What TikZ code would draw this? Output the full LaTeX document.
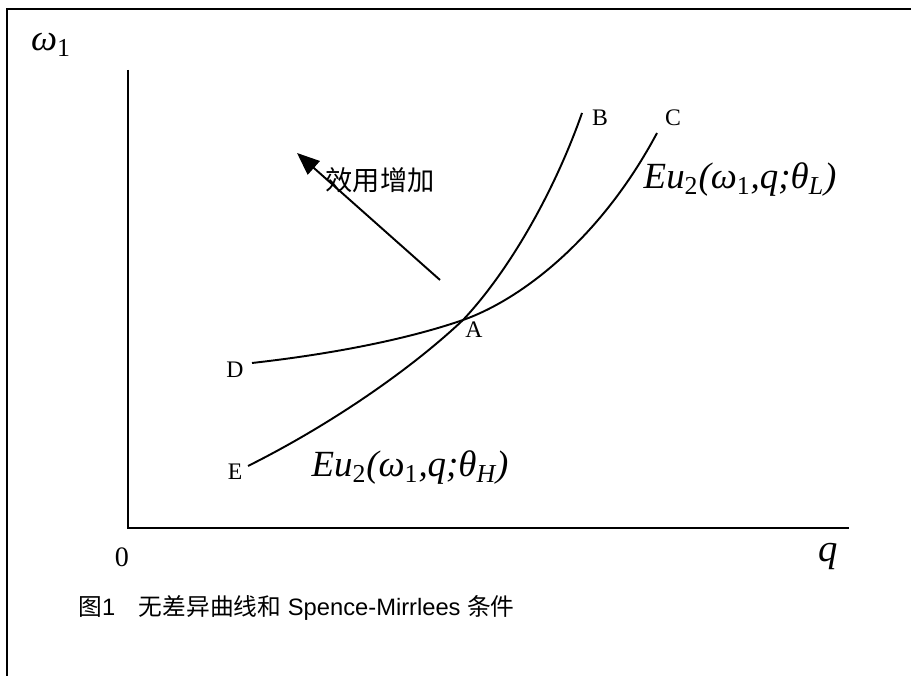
\documentclass[tikz,border=0pt]{standalone}
\usepackage{fontspec}
\setmainfont{Liberation Serif}
\setsansfont{Liberation Sans}
\newfontfamily\cjk{Noto Sans CJK SC}
\usetikzlibrary{arrows.meta, positioning}

\newcommand{\utilfn}[1]{\itshape Eu\textsubscript{\upshape 2}(ω\textsubscript{\upshape 1},q;θ\textsubscript{#1})}

\begin{document}
\begin{tikzpicture}[
    curve/.style={line width=1.1pt},
    axis/.style={line width=1.1pt},
    pt/.style={font=\fontsize{13.5}{16}\selectfont, inner sep=1pt},
    fn/.style={font=\fontsize{21}{24}\selectfont, inner sep=0pt}
]
\useasboundingbox (0,0) rectangle (18.22,13.52);
% frame, cut at right and bottom
\draw[line width=1.2pt] (0.14,0) -- (0.14,13.34) -- (18.22,13.34);

% axes
\coordinate (o) at (2.56,2.96);
\coordinate (ytop) at (2.56,12.12);
\coordinate (xend) at (16.98,2.96);
\draw[axis] (ytop) -- (o) -- (xend);
\node[font=\fontsize{21}{24}\selectfont\itshape] (w) at (1.02,12.62) {ω\textsubscript{\upshape 1}};
\node[font=\fontsize{16}{18}\selectfont] (zero) at (2.44,2.38) {0};
\node[font=\fontsize{22}{24}\selectfont\itshape] (q) at (16.56,2.38) {q};

% curve points
\coordinate (A) at (9.26,7.12);
\coordinate (D) at (5.04,6.26);
\coordinate (E) at (4.96,4.20);
\coordinate (B) at (11.64,11.26);
\coordinate (C) at (13.14,10.86);

\draw[curve] (D) .. controls (7.0,6.48) and (8.4,6.82) .. (A)
    .. controls (10.4,7.52) and (12.0,8.72) .. (C);
\draw[curve] (E) .. controls (6.6,5.02) and (8.2,6.12) .. (A)
    .. controls (10.2,8.12) and (11.1,9.72) .. (B);

\node[pt] (lA) at (9.48,6.92) {A};
\node[pt] (lB) at (12.0,11.16) {B};
\node[pt] (lC) at (13.46,11.16) {C};
\node[pt] (lD) at (4.7,6.12) {D};
\node[pt] (lE) at (4.7,4.08) {E};

\node[fn] (fL) at (14.8,9.92) {\utilfn{L}};
\node[fn] (fH) at (8.2,4.16) {\utilfn{H}};

% direction of higher utility
\coordinate (a0) at (8.8,7.92);
\coordinate (a1) at (5.94,10.46);
\draw[line width=1.1pt, -{Triangle[length=4.5mm,width=3.6mm]}] (a0) -- (a1);
\node[font=\cjk\fontsize{15.5}{18}\selectfont] (up) at (7.6,9.92) {效用增加};

\node[anchor=west, inner sep=0pt, font=\sffamily\fontsize{13.5}{16}\selectfont] (cap) at (1.56,1.36)
    {{\cjk 图}1\hspace{1em}{\cjk 无差异曲线和} Spence-Mirrlees {\cjk 条件}};
\end{tikzpicture}
\end{document}
